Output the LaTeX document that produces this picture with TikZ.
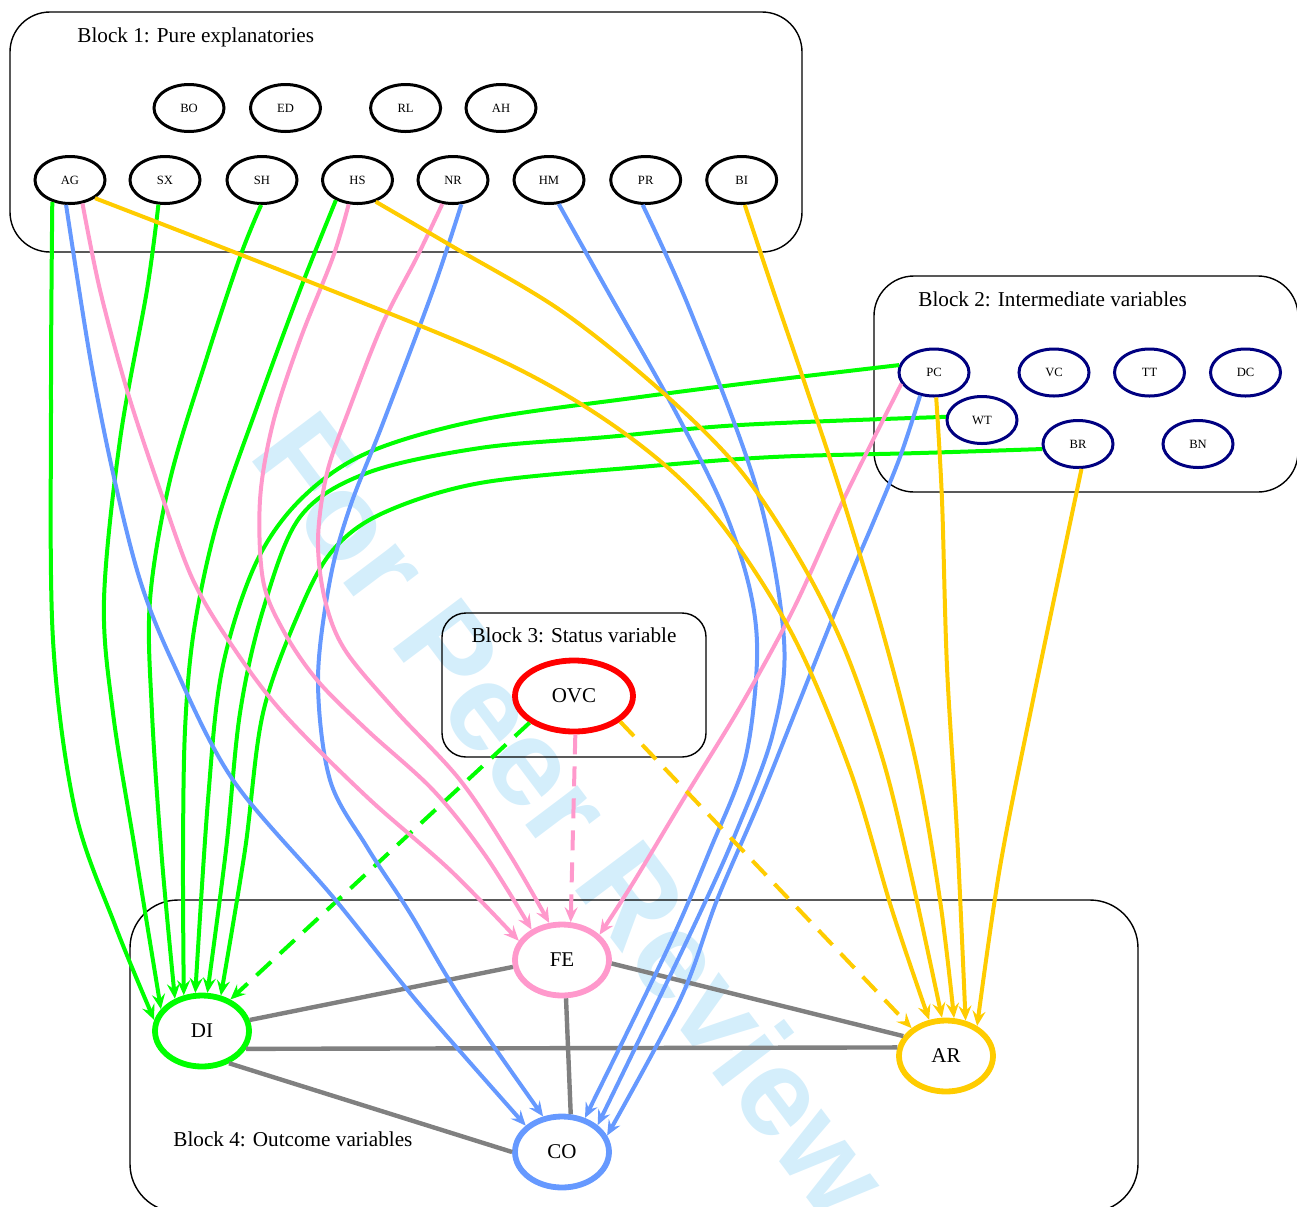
\documentclass[tikz,border=0pt]{standalone}
\usepackage{fontspec}
\setmainfont{Liberation Serif}
\setsansfont{Liberation Sans}
\usetikzlibrary{shapes.geometric,arrows.meta}
\definecolor{cgreen}{RGB}{0,255,0}
\definecolor{cblue}{RGB}{102,153,255}
\definecolor{cpink}{RGB}{255,153,204}
\definecolor{cyellow}{RGB}{255,204,0}
\definecolor{cgrey}{RGB}{128,128,128}
\definecolor{cnavy}{RGB}{0,0,128}
\definecolor{cred}{RGB}{255,0,0}
\definecolor{wm}{RGB}{212,238,251}
\begin{document}
\begin{tikzpicture}[x=0.5pt,y=-0.5pt,
  blockbox/.style={draw=black,line width=0.7pt,rounded corners=20pt},
  blocktitle/.style={inner sep=0pt,font=\fontsize{10.6}{12}\selectfont},
  nsmall/.style={ellipse,draw=black,line width=1.5pt,minimum width=35pt,minimum height=23.5pt,inner sep=0pt,font=\fontsize{6.3}{7}\selectfont},
  nnavy/.style={nsmall,draw=cnavy},
  nbig/.style={ellipse,line width=2.9pt,minimum width=47pt,minimum height=35.5pt,inner sep=0pt,font=\fontsize{10.5}{12}\selectfont},
  edg/.style={line width=2pt,-{Stealth[length=7.5pt,width=6.5pt,inset=2.7pt]}},
  dedg/.style={edg,dash pattern=on 10pt off 6pt},
  gline/.style={line width=2.2pt,draw=cgrey},
  smoothplot/.style={smooth,tension=0.55}
]
\useasboundingbox (0,0) rectangle (1297,1206);
\clip (0,0) rectangle (1297,1206);

% watermark
\node[anchor=base west,rotate=-53,text=wm,inner sep=0pt,
  font=\sffamily\bfseries\fontsize{62}{62}\selectfont] (wmark) at (247,455) {For Peer Review};

% blocks
\draw[blockbox] (10,12) rectangle (802,252);
\draw[blockbox] (874,276) rectangle (1298,492);
\draw[blockbox,rounded corners=12pt] (442,613) rectangle (706,757);
\draw[blockbox,rounded corners=24pt] (130,900) rectangle (1138,1212);

\node[blocktitle,anchor=base west] (t1) at (77,42) {Block 1: Pure explanatories};
\node[blocktitle,anchor=base west] (t2) at (918,306) {Block 2: Intermediate variables};
\node[blocktitle,anchor=base] (t3) at (574,642) {Block 3: Status variable};
\node[blocktitle,anchor=base west] (t4) at (173,1146) {Block 4: Outcome variables};

% block 1 nodes
\node[nsmall] (BO) at (189,108) {BO};
\node[nsmall] (ED) at (285.5,108) {ED};
\node[nsmall] (RL) at (405.6,108) {RL};
\node[nsmall] (AH) at (501,108) {AH};
\node[nsmall] (AG) at (70,180) {AG};
\node[nsmall] (SX) at (165,180) {SX};
\node[nsmall] (SH) at (262,180) {SH};
\node[nsmall] (HS) at (357.5,180) {HS};
\node[nsmall] (NR) at (453,180) {NR};
\node[nsmall] (HM) at (549,180) {HM};
\node[nsmall] (PR) at (645.7,180) {PR};
\node[nsmall] (BI) at (741.7,180) {BI};

% block 2 nodes
\node[nnavy] (PC) at (934,372.5) {PC};
\node[nnavy] (VC) at (1054,372.5) {VC};
\node[nnavy] (TT) at (1149.5,372.5) {TT};
\node[nnavy] (DC) at (1245.5,372.5) {DC};
\node[nnavy] (WT) at (982,420) {WT};
\node[nnavy] (BR) at (1078,444) {BR};
\node[nnavy] (BN) at (1198,444) {BN};

% block 3 / 4 nodes
\node[nbig,draw=cred,minimum width=59pt] (OVC) at (574,696) {OVC};
\node[nbig,draw=cpink] (FE) at (562,960) {FE};
\node[nbig,draw=cgreen] (DI) at (202,1031) {DI};
\node[nbig,draw=cyellow] (AR) at (946,1056) {AR};
\node[nbig,draw=cblue] (CO) at (562,1152) {CO};

% grey undirected links
\draw[gline] (DI.13) -- (FE.-172);
\draw[gline] (DI.-22) -- (AR.170);
\draw[gline] (DI.-50) -- (CO.180);
\draw[gline] (FE.-4) -- (AR.155);
\draw[gline] (FE.-84) -- (CO.77);

% green -> DI
\draw[edg,cgreen] plot[smoothplot] coordinates {(AG.-129) (51,400) (53,640) (75,810) (115,925) (DI.167)};
\draw[edg,cgreen] plot[smoothplot] coordinates {(SX.-105) (147,290) (120,440) (104,600) (113,713) (135,850) (DI.152)};
\draw[edg,cgreen] plot[smoothplot] coordinates {(SH.-92) (240,257) (207,357) (170,480) (150,600) (152,713) (162,860) (DI.130)};
\draw[edg,cgreen] plot[smoothplot] coordinates {(HS.-137) (300,290) (257,407) (217,523) (194,630) (185,730) (183,860) (DI.117)};
\draw[edg,cgreen] plot[smoothplot] coordinates {(PC.168) (773,380) (640,397) (480,420) (367,453) (300,500) (255,565) (222,670) (208,800) (DI.100)};
\draw[edg,cgreen] plot[smoothplot] coordinates {(WT.175) (740,425) (607,437) (480,448) (367,473) (300,517) (263,610) (240,713) (226,850) (DI.82)};
\draw[edg,cgreen] plot[smoothplot] coordinates {(BR.-172) (920,453) (773,457) (640,467) (480,483) (383,513) (333,550) (300,610) (263,713) (245,850) (DI.62)};
\draw[dedg,cgreen] (OVC.-149) -- (DI.48);

% blue -> CO
\draw[edg,cblue] plot[smoothplot] coordinates {(AG.-99) (90,357) (113,473) (140,580) (173,663) (233,780) (333,897) (420,1005) (CO.144)};
\draw[edg,cblue] plot[smoothplot] coordinates {(NR.-71) (433,290) (383,423) (350,507) (330,580) (318,680) (330,780) (367,847) (410,913) (460,997) (CO.118)};
\draw[edg,cblue] plot[smoothplot] coordinates {(HM.-68) (607,290) (673,407) (723,507) (750,590) (757,660) (745,760) (710,850) (667,950) (CO.56)};
\draw[edg,cblue] plot[smoothplot] coordinates {(PR.-97) (690,310) (757,490) (784,640) (773,733) (737,830) (692,930) (CO.37)};
\draw[edg,cblue] plot[smoothplot] coordinates {(PC.-121) (900,457) (873,523) (840,600) (800,700) (760,800) (717,900) (680,1000) (CO.20)};

% pink -> FE
\draw[edg,cpink] plot[smoothplot] coordinates {(AG.-62) (100,290) (127,390) (160,490) (193,580) (233,647) (283,713) (367,797) (450,870) (FE.156)};
\draw[edg,cpink] plot[smoothplot] coordinates {(HS.-110) (333,257) (300,340) (273,423) (260,500) (263,580) (283,630) (317,680) (367,730) (433,790) (485,855) (FE.135)};
\draw[edg,cpink] plot[smoothplot] coordinates {(NR.-114) (417,257) (383,323) (350,407) (327,473) (318,540) (325,600) (345,650) (395,710) (460,780) (510,855) (FE.109)};
\draw[edg,cpink] plot[smoothplot] coordinates {(PC.-161) (873,440) (840,507) (793,610) (740,707) (683,800) (633,883) (FE.34)};
\draw[dedg,cpink] (OVC.-88) -- (FE.77);

% yellow -> AR
\draw[edg,cyellow] plot[smoothplot] coordinates {(AG.-36) (300,278) (500,360) (620,430) (710,510) (790,630) (850,770) (892,910) (AR.115)};
\draw[edg,cyellow] plot[smoothplot] coordinates {(HS.-50) (450,245) (560,310) (660,390) (740,470) (800,560) (845,650) (883,760) (910,870) (AR.96)};
\draw[edg,cyellow] plot[smoothplot] coordinates {(BI.-83) (773,290) (807,390) (840,490) (883,633) (917,767) (940,900) (AR.78)};
\draw[edg,cyellow] plot[smoothplot] coordinates {(PC.-85) (942,500) (947,667) (957,833) (AR.61)};
\draw[edg,cyellow] plot[smoothplot] coordinates {(BR.-82) (1033,700) (1000,867) (AR.44)};
\draw[dedg,cyellow] (OVC.-29) -- (AR.141);
\end{tikzpicture}
\end{document}
